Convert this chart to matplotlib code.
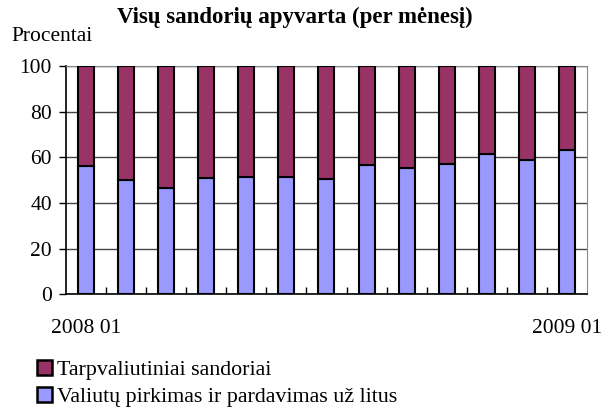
import numpy as np
import matplotlib.pyplot as plt
from matplotlib.patches import Patch

plt.rcParams['font.family'] = ['Liberation Serif', 'DejaVu Serif']

menesiai = ['2008 01', '2008 02', '2008 03', '2008 04', '2008 05', '2008 06', '2008 07',
            '2008 08', '2008 09', '2008 10', '2008 11', '2008 12', '2009 01']
valiutu_pirkimas = [56, 50, 46.5, 51, 51.5, 51.5, 50.5, 56.5, 55.5, 57, 61.5, 59, 63]
tarpvaliutiniai = [100 - v for v in valiutu_pirkimas]

melyna = '#9999ff'
bordo = '#993366'

fig = plt.figure(figsize=(6.16, 4.16), dpi=100)
ax = fig.add_axes([0.107, 0.293, 0.846, 0.548])

x = np.arange(len(menesiai))
ax.bar(x, valiutu_pirkimas, width=0.4, color=melyna, edgecolor='black', linewidth=1.5, zorder=3)
ax.bar(x, tarpvaliutiniai, width=0.4, bottom=valiutu_pirkimas, color=bordo,
       edgecolor='black', linewidth=1.5, zorder=3)

ax.set_xlim(-0.5, len(menesiai) - 0.5)
ax.set_ylim(0, 100)
ax.set_yticks(range(0, 101, 20))
ax.yaxis.grid(True, color='#444444', linewidth=1)
ax.tick_params(axis='y', labelsize=15.5, length=5, width=1, pad=5)

ax.set_xticks([0, len(menesiai) - 1])
ax.set_xticklabels([menesiai[0], menesiai[-1]])
ax.set_xticks(np.arange(0.5, len(menesiai) - 1, 1), minor=True)
ax.tick_params(axis='x', which='major', length=0, labelsize=15.5, pad=18)
ax.tick_params(axis='x', which='minor', direction='in', length=5, width=1)

for s in ['left', 'bottom']:
    ax.spines[s].set_color('black')
    ax.spines[s].set_linewidth(1.2)
ax.spines['right'].set_color('#888888')
ax.spines['top'].set_color('#888888')

fig.text(0.479, 0.957, 'Visų sandorių apyvarta (per mėnesį)', ha='center', va='center',
         fontsize=16.5, fontweight='bold')
fig.text(0.085, 0.913, 'Procentai', ha='center', va='center', fontsize=15.5)

rankenos = [Patch(facecolor=bordo, edgecolor='black', linewidth=1.8),
            Patch(facecolor=melyna, edgecolor='black', linewidth=1.8)]
fig.legend(rankenos, ['Tarpvaliutiniai sandoriai', 'Valiutų pirkimas ir pardavimas už litus'],
           loc='upper left', bbox_to_anchor=(0.06, 0.135), frameon=False, fontsize=15.8,
           handlelength=0.68, handleheight=0.68, handletextpad=0.25, labelspacing=0.3,
           borderaxespad=0, borderpad=0)

fig.savefig('out.png', dpi=100)
